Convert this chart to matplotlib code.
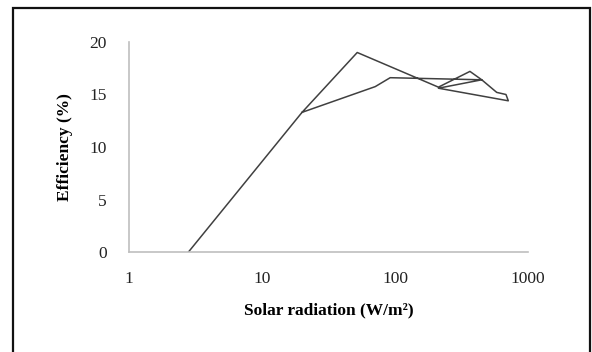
import matplotlib
matplotlib.use("Agg")
import matplotlib.pyplot as plt
from matplotlib.patches import Rectangle

radiation = [2.8, 20, 52, 212, 366, 449, 582, 683, 711, 212, 449, 92, 71, 20]
efficiency = [0.0, 13.3, 19.0, 15.7, 17.2, 16.4, 15.2, 15.0, 14.4, 15.6, 16.4, 16.6, 15.75, 13.3]
x_ticks = [1, 10, 100, 1000]
y_ticks = [0, 5, 10, 15, 20]

plt.rcParams['font.family'] = ['Liberation Serif', 'DejaVu Serif']

fig = plt.figure(figsize=(5.92, 3.52), dpi=100)
ax = fig.add_axes([129/592, 1-252/352, (528-129)/592, (252-42)/352])

ax.plot(radiation, efficiency, color='#404040', lw=1.1)
ax.set_xscale('log')
ax.set_xlim(1, 1000)
ax.set_ylim(0, 20)
ax.set_xticks(x_ticks)
ax.set_xticklabels([str(t) for t in x_ticks])
ax.set_yticks(y_ticks)
ax.set_yticklabels([str(t) for t in y_ticks])
ax.minorticks_off()
ax.tick_params(length=0, labelsize=12.5, colors='#222222')
ax.tick_params(axis='y', pad=16)
ax.tick_params(axis='x', pad=14)
for s in ['top', 'right']:
    ax.spines[s].set_visible(False)
for s in ['left', 'bottom']:
    ax.spines[s].set_color('#bfbfbf')
    ax.spines[s].set_linewidth(1.2)

ax.set_xlabel('Solar radiation (W/m\u00b2)', fontsize=12.5, fontweight='bold', labelpad=11)
ax.set_ylabel('Efficiency (%)', fontsize=12.5, fontweight='bold', labelpad=12)

fig.patches.append(Rectangle((13/592, -0.1), (590-13)/592, 1.1-8/352,
                             transform=fig.transFigure, fill=False,
                             edgecolor='#111111', lw=1.6))

fig.savefig('out.png', dpi=100)
